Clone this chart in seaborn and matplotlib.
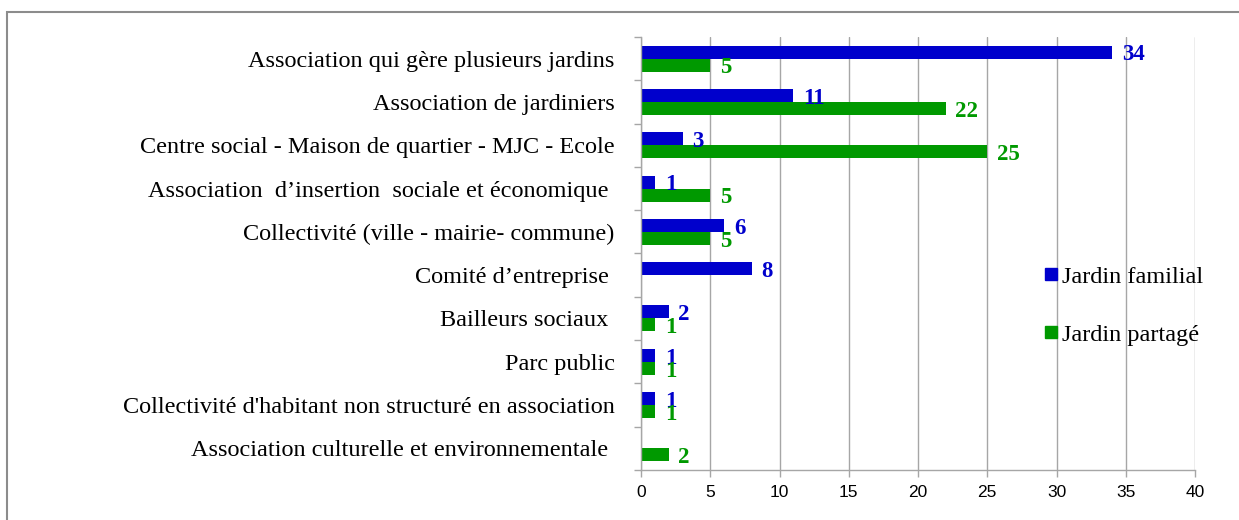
import matplotlib
matplotlib.use("Agg")
import matplotlib.pyplot as plt
from matplotlib.lines import Line2D
import numpy as np
import pandas as pd
import seaborn as sns

categories = [
    "Association qui gère plusieurs jardins",
    "Association de jardiniers",
    "Centre social - Maison de quartier - MJC - Ecole",
    "Association  d’insertion  sociale et économique ",
    "Collectivité (ville - mairie- commune)",
    "Comité d’entreprise ",
    "Bailleurs sociaux ",
    "Parc public",
    "Collectivité d'habitant non structuré en association",
    "Association culturelle et environnementale ",
]
familial = [34, 11, 3, 1, 6, 8, 2, 1, 1, 0]
partage = [5, 22, 25, 5, 5, 0, 1, 1, 1, 2]
series_names = ["Jardin familial", "Jardin partagé"]
x_ticks = [0, 5, 10, 15, 20, 25, 30, 35, 40]

colors = {"Jardin familial": "#0000CC", "Jardin partagé": "#009900"}

df = pd.DataFrame({
    "categorie": categories * 2,
    "valeur": familial + partage,
    "type": [series_names[0]] * len(categories) + [series_names[1]] * len(categories),
})

sns.set_theme(style="white")
plt.rcParams["font.family"] = ["Liberation Serif", "DejaVu Serif"]
plt.rcParams["text.color"] = "black"

fig = plt.figure(figsize=(12.39, 5.2), dpi=100)
ax = fig.add_axes([0.5174, 0.0962, 0.9645 - 0.5174, 0.9288 - 0.0962])

sns.barplot(data=df, y="categorie", x="valeur", hue="type", orient="h",
            palette=colors, width=0.6, ax=ax, legend=False, saturation=1,
            order=categories, hue_order=series_names, linewidth=0, gap=0)

ax.set_xlim(0, 40)
ax.set_ylim(len(categories) - 0.5, -0.5)
ax.set_xticks(x_ticks)
ax.set_xticklabels([str(t) for t in x_ticks], family="Liberation Sans",
                   fontsize=12.5, color="black")
ax.set_xlabel("")
ax.set_ylabel("")
ax.xaxis.grid(True, color="#A6A6A6", linewidth=1)
ax.set_axisbelow(True)

# category labels, with boundary ticks between groups
ax.set_yticks(range(len(categories)))
ax.set_yticklabels(categories, fontsize=17.5, color="black")
ax.tick_params(axis="y", which="major", length=0, pad=19)
ax.set_yticks(np.arange(-0.5, len(categories), 1), minor=True)
ax.tick_params(axis="y", which="minor", length=5, color="#A6A6A6", width=1, left=True)
ax.tick_params(axis="x", which="major", length=5, color="#A6A6A6", width=1,
               bottom=True, pad=6)

for side in ["top", "right"]:
    ax.spines[side].set_visible(False)
for side in ["left", "bottom"]:
    ax.spines[side].set_color("#A6A6A6")
    ax.spines[side].set_linewidth(1)

# value labels
for container, name in zip(ax.containers, series_names):
    for bar in container:
        w = bar.get_width()
        if not w:
            continue
        yc = bar.get_y() + bar.get_height() / 2
        ax.annotate(f"{int(w)}", (w, yc), xytext=(7, -2), textcoords="offset points",
                    va="center", ha="left", fontsize=16.5, fontweight="bold",
                    color=colors[name])

handles = [Line2D([], [], marker="s", linestyle="", markersize=8.5,
                  markerfacecolor=colors[n], markeredgecolor=colors[n]) for n in series_names]
fig.legend(handles, series_names, loc="center left", bbox_to_anchor=(0.823, 0.412),
           frameon=False, fontsize=17.5, handletextpad=0.05, labelspacing=1.5,
           handlelength=0.8, labelcolor="black")

# outer frame (top and left edges visible)
fig.add_artist(plt.Rectangle((7 / 1239, -0.05), 1.2, 1 - 11.5 / 520 + 0.05,
                             transform=fig.transFigure, fill=False,
                             edgecolor="#8C8C8C", linewidth=1.5))

fig.savefig("out.png", dpi=100)
